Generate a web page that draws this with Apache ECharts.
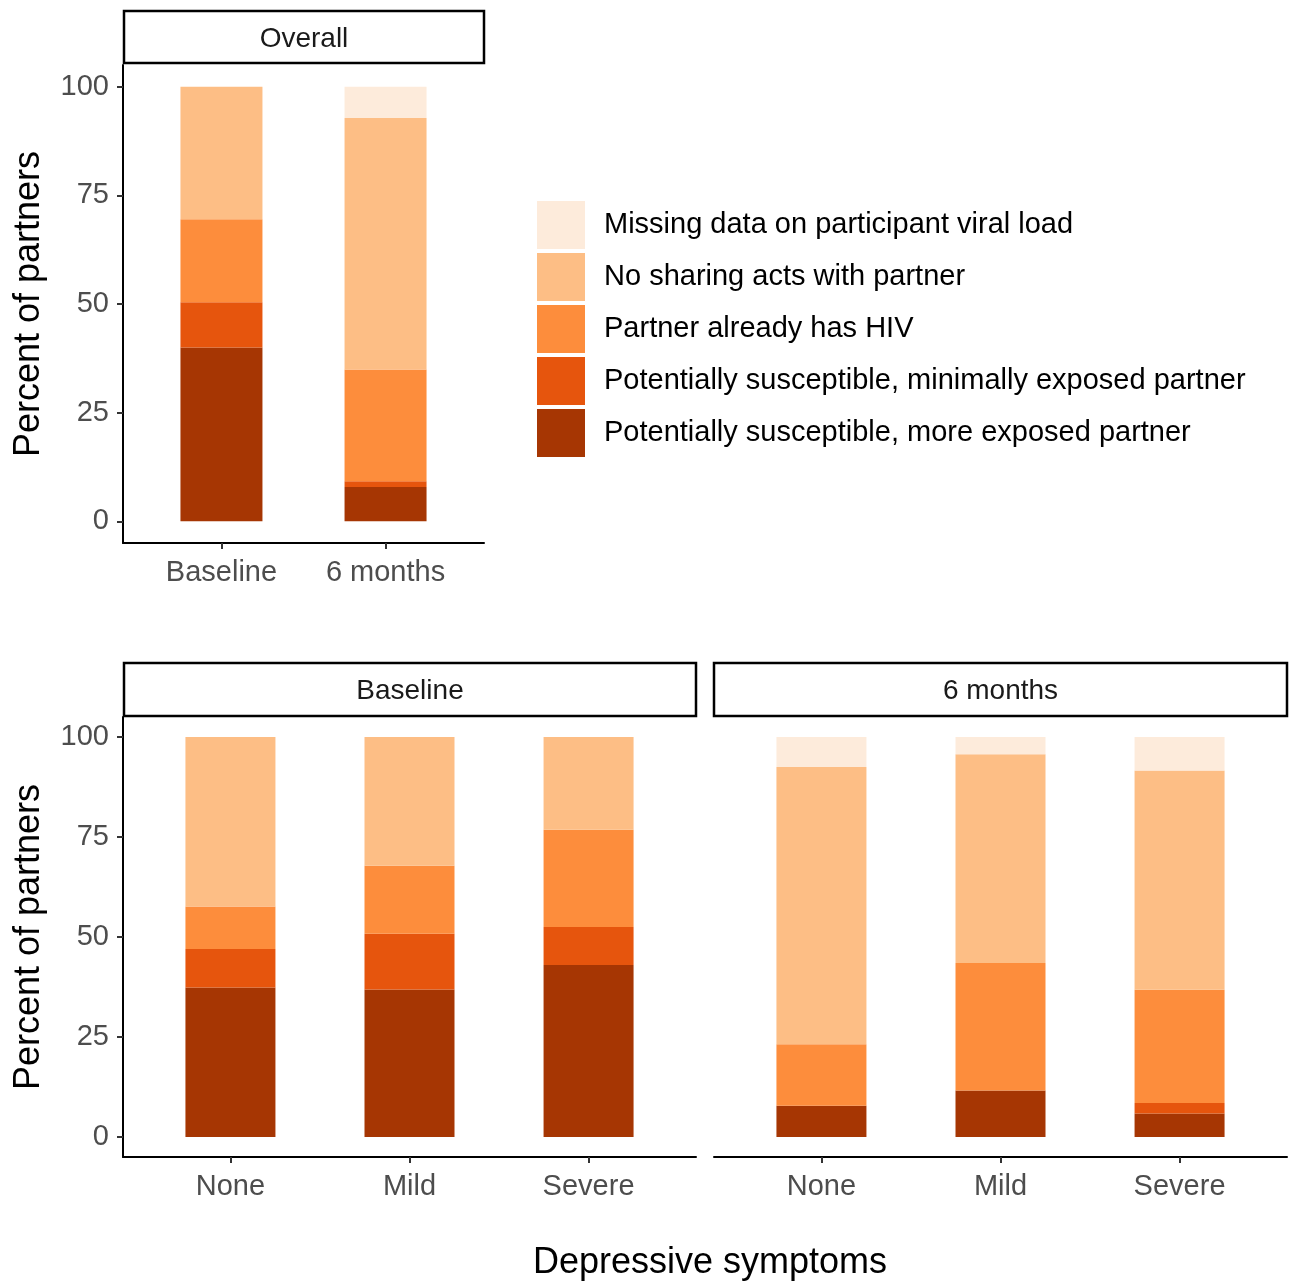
<!DOCTYPE html>
<html>
<head>
<meta charset="utf-8">
<script src="https://cdn.jsdelivr.net/npm/echarts@6/dist/echarts.min.js"></script>
<style>
  html, body { margin: 0; padding: 0; background: #fff; }
  #chart { width: 1293px; height: 1281px; }
</style>
</head>
<body>
<div id="chart"></div>
<script>
// categories
var overallCats = ['Baseline', '6 months'];
var depCats = ['None', 'Mild', 'Severe'];
var yTicks = [0, 25, 50, 75, 100];

// stack levels, bottom first
var levelNames = [
    'Potentially susceptible, more exposed partner',
    'Potentially susceptible, minimally exposed partner',
    'Partner already has HIV',
    'No sharing acts with partner',
    'Missing data on participant viral load'
];
var levelColors = ['#A63603', '#E6550D', '#FD8D3C', '#FDBE85', '#FDEBDB'];

// Overall panel (Baseline, 6 months)
var overallMore = [40.0, 7.9];
var overallMinimal = [10.4, 1.3];
var overallHiv = [19.1, 25.7];
var overallNoShare = [30.5, 57.9];
var overallMissing = [0, 7.2];

// Baseline by depressive symptoms (None, Mild, Severe)
var baseMore = [37.4, 36.9, 43.0];
var baseMinimal = [9.6, 13.9, 9.5];
var baseHiv = [10.6, 17.0, 24.3];
var baseNoShare = [42.4, 32.2, 23.2];
var baseMissing = [0, 0, 0];

// 6 months by depressive symptoms (None, Mild, Severe)
var sixMore = [7.8, 11.6, 5.9];
var sixMinimal = [0, 0, 2.6];
var sixHiv = [15.4, 31.9, 28.3];
var sixNoShare = [69.3, 52.2, 54.8];
var sixMissing = [7.5, 4.3, 8.4];

var FONT = '"Liberation Sans", Arial, Helvetica, sans-serif';
var AXIS_GREY = '#4D4D4D';

var panels = [
    { cats: overallCats, levels: [overallMore, overallMinimal, overallHiv, overallNoShare, overallMissing], barWidth: 82, showY: true },
    { cats: depCats, levels: [baseMore, baseMinimal, baseHiv, baseNoShare, baseMissing], barWidth: 90, showY: true },
    { cats: depCats, levels: [sixMore, sixMinimal, sixHiv, sixNoShare, sixMissing], barWidth: 90, showY: false }
];

var grids = [
    { left: 123, top: 65, width: 361, height: 478 },
    { left: 123, top: 717, width: 573, height: 440 },
    { left: 714, top: 717, width: 573, height: 440 }
];

var xAxes = [];
var yAxes = [];
var series = [];

panels.forEach(function (p, gi) {
    var idx = p.cats.map(function (c, i) { return i; });
    // x is a value axis so the ggplot-style 0.6 expansion on each side can be kept
    xAxes.push({
        type: 'value',
        gridIndex: gi,
        min: -0.6,
        max: p.cats.length - 1 + 0.6,
        splitLine: { show: false },
        axisLine: { show: true, onZero: false, lineStyle: { color: '#000', width: 2 } },
        axisTick: { show: true, customValues: idx, length: 6, lineStyle: { color: '#333', width: 2 } },
        axisLabel: {
            customValues: idx,
            margin: 15,
            fontSize: 29,
            fontFamily: FONT,
            color: AXIS_GREY,
            formatter: function (v) { return p.cats[Math.round(v)]; }
        }
    });
    yAxes.push({
        type: 'value',
        gridIndex: gi,
        min: -5,
        max: 105,
        splitLine: { show: false },
        name: p.showY ? 'Percent of partners' : '',
        nameLocation: 'middle',
        nameGap: 76,
        nameTextStyle: { fontSize: 36, fontFamily: FONT, color: '#000' },
        axisLine: { show: p.showY, onZero: false, lineStyle: { color: '#000', width: 2 } },
        axisTick: { show: p.showY, customValues: yTicks, length: 6, lineStyle: { color: '#333', width: 2 } },
        axisLabel: {
            show: p.showY,
            customValues: yTicks,
            margin: 14,
            fontSize: 29,
            fontFamily: FONT,
            color: AXIS_GREY
        }
    });
    p.levels.forEach(function (vals, li) {
        series.push({
            type: 'bar',
            name: levelNames[li],
            xAxisIndex: gi,
            yAxisIndex: gi,
            stack: 'panel' + gi,
            barWidth: p.barWidth,
            itemStyle: { color: levelColors[li] },
            emphasis: { disabled: true },
            // value first so the stack runs on the y dimension
            encode: { x: 1, y: 0 },
            data: vals.map(function (v, i) { return [v, i]; })
        });
    });
});

// facet strips
function strip (x, y, w, h, label) {
    return {
        type: 'group',
        children: [
            { type: 'rect', shape: { x: x, y: y, width: w, height: h }, style: { fill: '#fff', stroke: '#000', lineWidth: 2.5 } },
            { type: 'text', x: x + w / 2, y: y + h / 2 + 2, style: { text: label, fontSize: 28, fontFamily: FONT, fill: '#1A1A1A', align: 'center', verticalAlign: 'middle' } }
        ]
    };
}

var chart = echarts.init(document.getElementById('chart'));
chart.setOption({
    backgroundColor: '#fff',
    animation: false,
    grid: grids,
    xAxis: xAxes,
    yAxis: yAxes,
    series: series,
    legend: {
        orient: 'vertical',
        left: 537,
        top: 201,
        padding: 0,
        itemWidth: 48,
        itemHeight: 48,
        itemGap: 4,
        icon: 'rect',
        selectedMode: false,
        data: levelNames.slice().reverse(),
        textStyle: { fontSize: 29, fontFamily: FONT, color: '#000', padding: [12, 0, 0, 14] }
    },
    graphic: [
        strip(124, 11, 360, 52, 'Overall'),
        strip(124, 663, 572, 53, 'Baseline'),
        strip(714, 663, 573, 53, '6 months'),
        {
            type: 'text',
            x: 710,
            y: 1263,
            style: { text: 'Depressive symptoms', fontSize: 36, fontFamily: FONT, fill: '#000', align: 'center', verticalAlign: 'middle' }
        }
    ]
});
</script>
</body>
</html>
